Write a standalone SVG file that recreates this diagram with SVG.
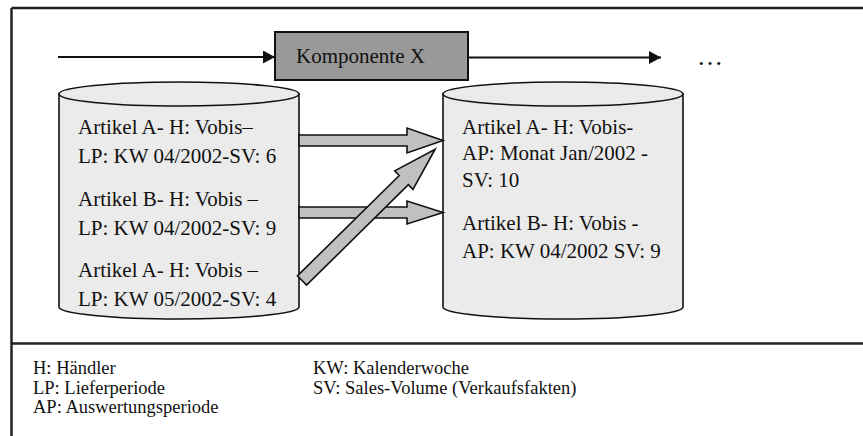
<svg xmlns="http://www.w3.org/2000/svg" width="863" height="436" viewBox="0 0 863 436">
  <defs>
    <style>
      .t { font-family: "Liberation Serif", "Times New Roman", serif; font-size: 21px; fill: #111; }
      .lg { font-family: "Liberation Serif", "Times New Roman", serif; font-size: 18.5px; fill: #111; }
      .cyl { fill: #ebebeb; stroke: #111; stroke-width: 1.6; }
      .blk { fill: #c0c0c0; stroke: #111; stroke-width: 1.6; stroke-linejoin: miter; }
      .ln { stroke: #111; stroke-width: 2; fill: none; }
      .frame { stroke: #222; stroke-width: 2.5; fill: none; }
    </style>
    <marker id="ah" viewBox="0 0 12 13" refX="12" refY="6.5" markerWidth="12" markerHeight="13" markerUnits="userSpaceOnUse" orient="auto">
      <path d="M0,0 L12,6.5 L0,13 Z" fill="#111"/>
    </marker>
  </defs>
  <rect width="863" height="436" fill="#fff"/>

  <g id="frame">
    <line class="frame" x1="11.5" y1="8" x2="863" y2="8"/>
    <line class="frame" x1="11.5" y1="8" x2="11.5" y2="436"/>
    <line class="frame" x1="11.5" y1="343.5" x2="863" y2="343.5"/>
  </g>

  <g id="komponente-x">
    <rect x="275" y="32" width="193" height="48" fill="#999" stroke="#111" stroke-width="2"/>
    <text class="t" x="296" y="63">Komponente X</text>
  </g>

  <g id="ellipsis">
    <text class="t" x="697" y="65" style="font-size:26px">…</text>
  </g>

  <g id="db-left">
    <path class="cyl" d="M59,94 L59,307 A120,12 0 0 0 299,307 L299,94 Z"/>
    <ellipse class="cyl" cx="179" cy="94" rx="120" ry="12"/>
    <text class="t" x="78" y="134">Artikel A- H: Vobis–</text>
    <text class="t" x="78" y="163">LP: KW 04/2002-SV: 6</text>
    <text class="t" x="78" y="206">Artikel B- H: Vobis –</text>
    <text class="t" x="78" y="235">LP: KW 04/2002-SV: 9</text>
    <text class="t" x="78" y="277">Artikel A- H: Vobis –</text>
    <text class="t" x="78" y="306">LP: KW 05/2002-SV: 4</text>
  </g>

  <g id="db-right">
    <path class="cyl" d="M443,94 L443,307 A120,12 0 0 0 683,307 L683,94 Z"/>
    <ellipse class="cyl" cx="563" cy="94" rx="120" ry="12"/>
    <text class="t" x="462" y="134">Artikel A- H: Vobis-</text>
    <text class="t" x="462" y="160">AP: Monat Jan/2002 -</text>
    <text class="t" x="462" y="187">SV: 10</text>
    <text class="t" x="462" y="230">Artikel B- H: Vobis -</text>
    <text class="t" x="462" y="258">AP: KW 04/2002 SV: 9</text>
  </g>

  <g id="connectors">
    <line class="ln" x1="58" y1="57" x2="275" y2="57" marker-end="url(#ah)"/>
    <line class="ln" x1="468" y1="57.5" x2="661" y2="57.5" marker-end="url(#ah)"/>
    <polygon class="blk" points="299,135 407,135 407,128 443,140.5 407,153 407,146 299,146"/>
    <polygon class="blk" points="299,207 407,207 407,201 443,212.5 407,224 407,218 299,218"/>
    <polygon class="blk" transform="translate(302,280.5) rotate(-44.6)" points="0,-6.5 143,-6.5 143,-13 187,0 143,13 143,6.5 0,6.5"/>
  </g>

  <g id="legend">
    <text class="lg" x="33" y="374">H: Händler</text>
    <text class="lg" x="33" y="393.5">LP: Lieferperiode</text>
    <text class="lg" x="33" y="413">AP: Auswertungsperiode</text>
    <text class="lg" x="313" y="374">KW: Kalenderwoche</text>
    <text class="lg" x="313" y="393.5">SV: Sales-Volume (Verkaufsfakten)</text>
  </g>
</svg>
